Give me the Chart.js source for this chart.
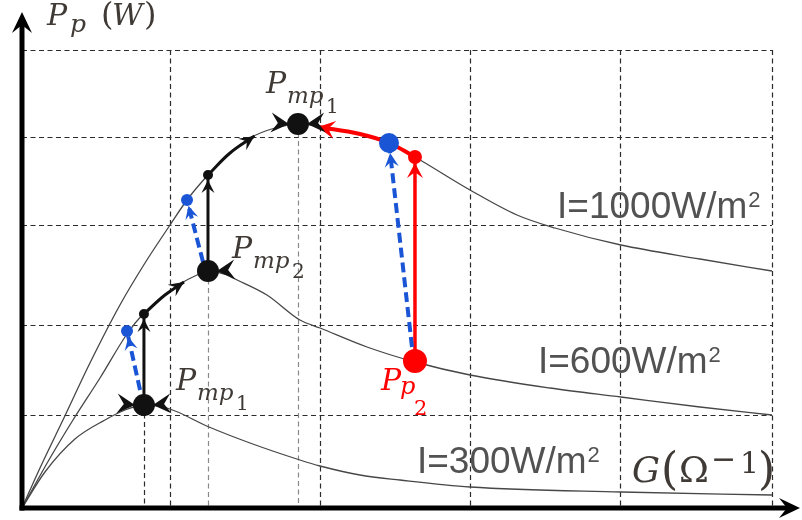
<!DOCTYPE html>
<html><head><meta charset="utf-8">
<script src="https://cdn.jsdelivr.net/npm/chart.js@4.4.1/dist/chart.umd.min.js"></script>
<style>html,body{margin:0;padding:0;background:#fff;overflow:hidden}canvas{display:block}</style>
</head><body>
<canvas id="c" width="802" height="520"></canvas>
<script>
// ---- data (x: conductance G, y: power P) ----
const g1000 = [0, 0.12, 0.273, 0.453, 0.653, 0.82, 0.987, 1.10, 1.24, 1.387, 1.52, 1.687, 1.84, 2.12, 2.447, 2.62, 2.987, 3.30, 3.553, 3.993, 4.52, 5.0];
const p1000 = [0, 0.40, 0.88, 1.45, 2.03, 2.45, 2.83, 3.08, 3.33, 3.55, 3.70, 3.80, 3.84, 3.78, 3.65, 3.51, 3.18, 2.93, 2.80, 2.63, 2.49, 2.37];
const g600 = [0, 0.187, 0.34, 0.52, 0.70, 0.807, 0.953, 1.053, 1.167, 1.24, 1.367, 1.407, 1.633, 1.853, 1.987, 2.30, 2.62, 2.987, 3.52, 3.993, 4.52, 5.0];
const p600 = [0, 0.50, 0.88, 1.30, 1.74, 1.94, 2.13, 2.24, 2.33, 2.37, 2.33, 2.30, 2.13, 1.88, 1.80, 1.61, 1.46, 1.33, 1.20, 1.11, 1.01, 0.93];
const g300 = [0, 0.153, 0.353, 0.553, 0.687, 0.813, 0.967, 1.247, 1.52, 1.853, 1.987, 2.253, 2.52, 2.987, 3.993, 5.0];
const p300 = [0, 0.36, 0.69, 0.88, 0.98, 1.03, 1.00, 0.81, 0.65, 0.48, 0.42, 0.33, 0.28, 0.21, 0.16, 0.13];

const gridG = [0.99, 1.99, 2.99, 3.99, 5.0];
const gridP = [0.93, 1.83, 2.83, 3.71, 4.58];

// operating points
const pmpTop = {x: 1.84, y: 3.84};
const pmp2 = {x: 1.24, y: 2.37};
const pmpLow = {x: 0.813, y: 1.03};
const stepTop1000 = {x: 1.24, y: 3.33};
const stepTop600 = {x: 0.813, y: 1.94};
const blue1000 = {x: 1.10, y: 3.08};
const blue600 = {x: 0.70, y: 1.77};
const blueRight = {x: 2.447, y: 3.65};
const redTop = {x: 2.62, y: 3.51};
const pp2 = {x: 2.62, y: 1.47};

// tracking paths
const blackStep1000 = [pmp2, stepTop1000];
const blackStep600 = [pmpLow, stepTop600];
const blackClimb1000 = [stepTop1000, {x: 1.387, y: 3.55}, {x: 1.55, y: 3.72}];
const blackClimb600 = [stepTop600, {x: 0.953, y: 2.13}, {x: 1.08, y: 2.26}];
const blueStep1000 = [{x: 1.207, y: 2.46}, blue1000];
const blueStep600 = [{x: 0.787, y: 1.18}, blue600];
const blueStepRight = [{x: 2.60, y: 1.61}, blueRight];
const redStep = [pp2, redTop];
const redReturn = [redTop, {x: 2.447, y: 3.65}, {x: 2.253, y: 3.74}, {x: 1.973, y: 3.81}];

// texts
const yTitle = ['P', 'p', '(', 'W', ')'];
const xTitle = ['G', '(', 'Ω', '−', '1', ')'];
const curveNames = ['I=1000W/m', 'I=600W/m', 'I=300W/m'];

const zip = (xs, ys) => xs.map((x, i) => ({x, y: ys[i]}));
const CURVE = '#474747', BLACK = '#111111', BLUE = '#1a55d6', RED = '#ff0000', TXT = '#3f3a35';
const SERIF = '"DejaVu Serif", "Liberation Serif", serif';

function line(label, data, color, width, extra) {
  return Object.assign({label, data, showLine: true, borderColor: color, borderWidth: width,
    pointRadius: 0, fill: false, tension: 0.4, order: 2}, extra || {});
}
function dots(label, data, color, radii) {
  return {label, data, showLine: false, pointRadius: radii, pointHoverRadius: radii,
    pointBackgroundColor: color, pointBorderWidth: 0, borderColor: color, order: 0, clip: false};
}

const datasets = [
  line('c1000', zip(g1000, p1000), CURVE, 1.3, {cubicInterpolationMode: 'monotone', order: 3}),
  line('c600', zip(g600, p600), CURVE, 1.3, {cubicInterpolationMode: 'monotone', order: 3}),
  line('c300', zip(g300, p300), CURVE, 1.3, {cubicInterpolationMode: 'monotone', order: 3}),
  line('blackStep1000', blackStep1000, BLACK, 3),
  line('blackStep600', blackStep600, BLACK, 3),
  line('blackClimb1000', blackClimb1000, BLACK, 3),
  line('blackClimb600', blackClimb600, BLACK, 3),
  line('blueStep1000', blueStep1000, BLUE, 4, {borderDash: [10, 5]}),
  line('blueStep600', blueStep600, BLUE, 4, {borderDash: [10, 5]}),
  line('blueStepRight', blueStepRight, BLUE, 4, {borderDash: [10, 5]}),
  line('redStep', redStep, RED, 3.5),
  line('redReturn', redReturn, RED, 4),
  dots('pmp', [pmpTop, pmp2, pmpLow], BLACK, [11, 11, 11]),
  dots('steps', [stepTop1000, stepTop600], BLACK, [5, 5]),
  dots('blue', [blue1000, blue600, blueRight], BLUE, [6, 6, 10]),
  dots('red', [redTop, pp2], RED, [7, 12])
];

function arrowHead(ctx, tx, ty, ang, len, hw, color) {
  const c = Math.cos(ang), s = Math.sin(ang);
  const bx = tx - c * len, by = ty - s * len;
  const nx = -s, ny = c;
  ctx.beginPath();
  ctx.moveTo(tx, ty);
  ctx.lineTo(bx + nx * hw, by + ny * hw);
  ctx.lineTo(tx - c * len * 0.62, ty - s * len * 0.62);
  ctx.lineTo(bx - nx * hw, by - ny * hw);
  ctx.closePath();
  ctx.fillStyle = color;
  ctx.fill();
}

const pathArrows = [
  {ds: 'blackStep1000', back: 5, len: 13, hw: 6.5, color: BLACK},
  {ds: 'blackStep600', back: 5, len: 13, hw: 6.5, color: BLACK},
  {ds: 'blackClimb1000', back: 0, len: 15, hw: 7, color: BLACK},
  {ds: 'blackClimb600', back: 0, len: 15, hw: 7, color: BLACK},
  {ds: 'blueStep1000', back: 6, len: 13, hw: 6.5, color: BLUE},
  {ds: 'blueStep600', back: 6, len: 13, hw: 6.5, color: BLUE},
  {ds: 'blueStepRight', back: 10, len: 14, hw: 7, color: BLUE},
  {ds: 'redStep', back: 6, len: 15, hw: 8, color: RED},
  {ds: 'redReturn', back: 0, len: 17, hw: 9, color: RED}
];
const pmpArrows = [
  {pt: pmpTop, sides: [-1, 1]},
  {pt: pmp2, sides: [1]},
  {pt: pmpLow, sides: [-1, 1]}
];

function drawParts(ctx, x0, y0, parts, color) {
  ctx.fillStyle = color;
  ctx.textBaseline = 'alphabetic';
  ctx.textAlign = 'left';
  parts.forEach(p => {
    ctx.font = (p.it ? 'italic ' : '') + p.size + 'px ' + (p.fam || SERIF);
    ctx.fillText(p.t, x0 + p.dx, y0 + p.dy);
  });
}
function pmpParts(sub) {
  return [
    {t: 'P', dx: 0, dy: 0, size: 30, it: true},
    {t: 'mp', dx: 21, dy: 10, size: 23, it: true},
    {t: sub, dx: 60, dy: 20, size: 20, it: false}
  ];
}
const mathLabels = [
  {pt: pmpTop, dx: -32, dy: -31, color: TXT, parts: pmpParts('1')},
  {pt: pmp2, dx: 24, dy: -13, color: TXT, parts: pmpParts('2')},
  {pt: pmpLow, dx: 32, dy: -15, color: TXT, parts: pmpParts('1')},
  {pt: pp2, dx: -34, dy: 29, color: RED, parts: [
    {t: 'P', dx: 0, dy: 0, size: 30, it: true},
    {t: 'p', dx: 19, dy: 4, size: 24, it: true},
    {t: '2', dx: 33, dy: 25, size: 21, it: false}
  ]}
];
const curveLabels = [
  {text: curveNames[0], at: {x: 3.567, y: 2.90}},
  {text: curveNames[1], at: {x: 3.44, y: 1.35}},
  {text: curveNames[2], at: {x: 2.633, y: 0.35}}
];

const deco = {
  id: 'deco',
  beforeDatasetsDraw(chart) {
    const {ctx, scales: {x, y}} = chart;
    ctx.save();
    ctx.lineWidth = 1.2;
    ctx.setLineDash([5, 3.5]);
    ctx.strokeStyle = '#2b2b2b';
    const x0 = x.getPixelForValue(0), xe = x.getPixelForValue(gridG[gridG.length - 1]);
    const y0 = y.getPixelForValue(0), ye = y.getPixelForValue(gridP[gridP.length - 1]);
    gridP.forEach(v => { const py = Math.round(y.getPixelForValue(v)) + 0.5;
      ctx.beginPath(); ctx.moveTo(x0, py); ctx.lineTo(xe, py); ctx.stroke(); });
    gridG.forEach(v => { const px = Math.round(x.getPixelForValue(v)) + 0.5;
      ctx.beginPath(); ctx.moveTo(px, ye); ctx.lineTo(px, y0); ctx.stroke(); });
    // drop lines from the maximum power points
    [[pmpLow, '#2b2b2b'], [pmp2, '#8a8a8a'], [pmpTop, '#8a8a8a']].forEach(([p, col]) => {
      const px = Math.round(x.getPixelForValue(p.x)) + 0.5;
      ctx.strokeStyle = col;
      ctx.beginPath(); ctx.moveTo(px, y.getPixelForValue(p.y)); ctx.lineTo(px, y0); ctx.stroke();
    });
    ctx.restore();
  },
  afterDatasetsDraw(chart) {
    const {ctx, chartArea: ca, scales: {x, y}} = chart;
    ctx.save();
    // arrowheads on tracking paths
    pathArrows.forEach(a => {
      const i = chart.data.datasets.findIndex(d => d.label === a.ds);
      const pts = chart.getDatasetMeta(i).data;
      const L = pts[pts.length - 1], P = pts[pts.length - 2];
      const ang = Math.atan2(L.y - P.y, L.x - P.x);
      arrowHead(ctx, L.x - Math.cos(ang) * a.back, L.y - Math.sin(ang) * a.back, ang, a.len, a.hw, a.color);
    });
    // converging arrowheads at the maximum power points
    pmpArrows.forEach(m => {
      const cx = x.getPixelForValue(m.pt.x), cy = y.getPixelForValue(m.pt.y);
      m.sides.forEach(s => {
        const ang = s < 0 ? 0.08 : Math.PI - 0.08;
        arrowHead(ctx, cx + s * 9, cy, ang, 18, 10, BLACK);
      });
    });
    // axes with arrows
    const ox = x.getPixelForValue(0), oy = y.getPixelForValue(0);
    ctx.strokeStyle = '#000'; ctx.lineWidth = 5; ctx.setLineDash([]);
    ctx.beginPath(); ctx.moveTo(ox, oy + 2.5); ctx.lineTo(ox, ca.top + 12); ctx.stroke();
    ctx.beginPath(); ctx.moveTo(ox - 2.5, oy); ctx.lineTo(ca.right - 12, oy); ctx.stroke();
    arrowHead(ctx, ox, ca.top, -Math.PI / 2, 21, 10, '#000');
    arrowHead(ctx, ca.right, oy, 0, 21, 10, '#000');
    // axis titles
    drawParts(ctx, ox + 25, ca.top + 13, [
      {t: yTitle[0], dx: 0, dy: 0, size: 30, it: true},
      {t: yTitle[1], dx: 23, dy: 7, size: 25, it: true},
      {t: yTitle[2], dx: 54, dy: 0, size: 32, it: false},
      {t: yTitle[3], dx: 65, dy: 0, size: 30, it: true},
      {t: yTitle[4], dx: 97, dy: 0, size: 32, it: false}
    ], TXT);
    const gx = x.getPixelForValue(gridG[gridG.length - 1]);
    drawParts(ctx, gx - 140, oy - 26, [
      {t: xTitle[0], dx: 0, dy: 0, size: 35, it: true},
      {t: xTitle[1], dx: 29, dy: 2, size: 44, it: false},
      {t: xTitle[2], dx: 47, dy: 0, size: 36, it: false},
      {t: xTitle[3], dx: 79, dy: -13, size: 30, it: false, fam: '"DejaVu Sans", sans-serif'},
      {t: xTitle[4], dx: 108, dy: -9, size: 30, it: false},
      {t: xTitle[5], dx: 126, dy: 2, size: 44, it: false}
    ], TXT);
    // point labels
    mathLabels.forEach(l => {
      drawParts(ctx, x.getPixelForValue(l.pt.x) + l.dx, y.getPixelForValue(l.pt.y) + l.dy, l.parts, l.color);
    });
    // irradiance labels
    curveLabels.forEach(l => {
      const px = x.getPixelForValue(l.at.x), py = y.getPixelForValue(l.at.y);
      ctx.fillStyle = '#525252';
      ctx.font = '37px "Liberation Sans", Arial, sans-serif';
      ctx.fillText(l.text, px, py);
      const w = ctx.measureText(l.text).width;
      ctx.font = '22px "Liberation Sans", Arial, sans-serif';
      ctx.fillText('2', px + w + 1, py - 11);
    });
    ctx.restore();
  }
};

new Chart(document.getElementById('c'), {
  type: 'scatter',
  data: {datasets},
  options: {
    responsive: false,
    animation: false,
    devicePixelRatio: 1,
    layout: {autoPadding: false, padding: {left: 22, right: 2, top: 12, bottom: 12}},
    plugins: {legend: {display: false}, tooltip: {enabled: false}},
    events: [],
    scales: {
      x: {type: 'linear', min: 0, max: 5.187, display: false},
      y: {type: 'linear', min: 0, max: 4.96, display: false}
    }
  },
  plugins: [deco]
});
</script>
</body></html>
